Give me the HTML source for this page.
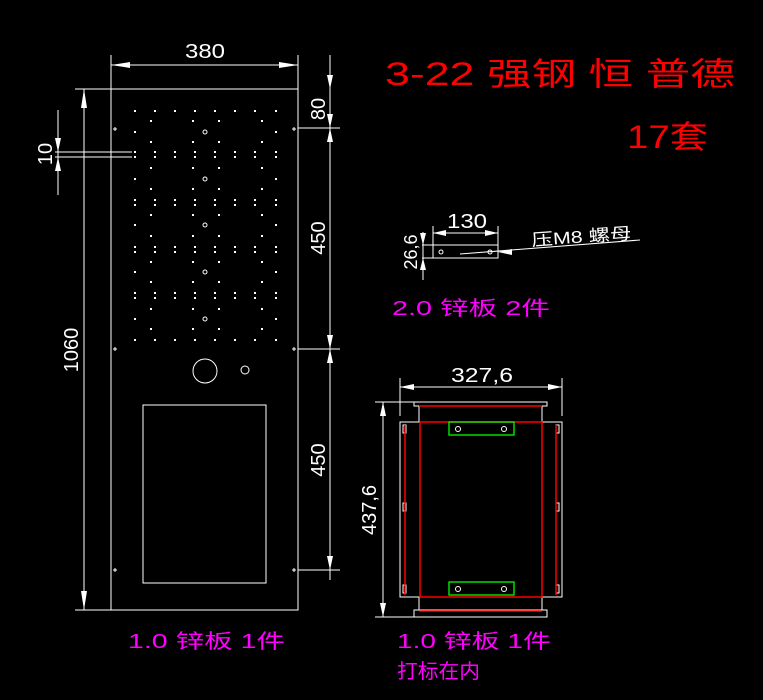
<!DOCTYPE html><html><head><meta charset="utf-8"><style>body{margin:0;background:#000;}svg{display:block}text{font-family:"Liberation Sans","Noto Sans CJK SC",sans-serif}</style></head><body>
<svg width="763" height="700" viewBox="0 0 763 700" xmlns="http://www.w3.org/2000/svg">
<rect width="763" height="700" fill="#000"/>
<g stroke="#fff" stroke-width="1" fill="none">
<rect x="111" y="89" width="187" height="521"/>
<line x1="111" y1="55" x2="111" y2="89"/><line x1="298" y1="55" x2="298" y2="89"/>
<line x1="111" y1="65" x2="298" y2="65"/>
<line x1="75" y1="89" x2="111" y2="89"/><line x1="75" y1="610" x2="111" y2="610"/>
<line x1="84" y1="89" x2="84" y2="610"/>
<line x1="330" y1="55" x2="330" y2="580"/>
<line x1="298" y1="128" x2="340" y2="128"/><line x1="298" y1="349" x2="340" y2="349"/><line x1="298" y1="570" x2="340" y2="570"/>
<line x1="55" y1="152" x2="132" y2="152"/><line x1="55" y1="157" x2="132" y2="157"/>
<line x1="58" y1="110" x2="58" y2="195"/>
<circle cx="205" cy="371" r="12"/><circle cx="245" cy="370" r="4"/>
<rect x="143" y="405" width="123" height="178"/>
<rect x="433" y="245" width="65" height="13"/>
<line x1="433" y1="226" x2="433" y2="245"/><line x1="498" y1="226" x2="498" y2="245"/>
<line x1="433" y1="233" x2="498" y2="233"/>
<line x1="422" y1="245" x2="433" y2="245"/><line x1="422" y1="258" x2="433" y2="258"/>
<line x1="423" y1="232" x2="423" y2="280"/>
<line x1="460" y1="254" x2="640" y2="240"/>
<circle cx="441" cy="252" r="2"/><circle cx="490" cy="252" r="2"/>
<line x1="400" y1="378" x2="400" y2="416"/><line x1="562" y1="378" x2="562" y2="416"/>
<line x1="400" y1="387" x2="562" y2="387"/>
<line x1="375" y1="402" x2="414" y2="402"/><line x1="375" y1="617" x2="414" y2="617"/>
<line x1="383" y1="402" x2="383" y2="617"/>
<rect x="414" y="402" width="133" height="4"/>
<line x1="419" y1="406" x2="419" y2="422"/><line x1="542" y1="406" x2="542" y2="422"/>
<rect x="400" y="422" width="162" height="175"/>
<line x1="419" y1="597" x2="419" y2="610"/><line x1="542" y1="597" x2="542" y2="610"/>
<rect x="414" y="610" width="133" height="7"/>
<rect x="403" y="425" width="3" height="8"/><rect x="403" y="503" width="3" height="8"/><rect x="403" y="585" width="3" height="8"/>
<rect x="556" y="425" width="3" height="8"/><rect x="556" y="503" width="3" height="8"/><rect x="556" y="585" width="3" height="8"/>
<circle cx="458" cy="429" r="2.5"/><circle cx="504" cy="429" r="2.5"/><circle cx="458" cy="589" r="2.5"/><circle cx="504" cy="589" r="2.5"/>
</g>
<g fill="#fff">
<polygon points="111,65 130,62 130,68"/><polygon points="298,65 279,62 279,68"/>
<polygon points="84,89 81,108 87,108"/><polygon points="84,610 81,591 87,591"/>
<polygon points="330,89 327,75 333,75"/><polygon points="330,128 327,142 333,142"/><polygon points="330,128 327,114 333,114"/><polygon points="330,349 327,335 333,335"/><polygon points="330,349 327,363 333,363"/><polygon points="330,570 327,556 333,556"/>
<polygon points="58,152 55,138 61,138"/><polygon points="58,157 55,171 61,171"/>
<polygon points="433,233 446,230 446,236"/><polygon points="498,233 485,230 485,236"/>
<polygon points="423,245 420,233 426,233"/><polygon points="423,258 420,270 426,270"/>
<polygon points="498,252 512,249 512,255"/>
<polygon points="400,387 414,384 414,390"/><polygon points="562,387 548,384 548,390"/>
<polygon points="383,402 380,416 386,416"/><polygon points="383,617 380,603 386,603"/>
</g>
<g fill="none" stroke="#f00" stroke-width="1.5">
<rect x="420" y="422" width="122" height="175"/>
<line x1="405" y1="425" x2="405" y2="595"/><line x1="556" y1="425" x2="556" y2="595"/>
<line x1="419" y1="406" x2="542" y2="406"/><line x1="419" y1="611" x2="542" y2="611"/>
</g>
<g fill="none" stroke="#0f0" stroke-width="1.3">
<rect x="449" y="422" width="65" height="13"/><rect x="449" y="582" width="65" height="13"/>
</g>
<g fill="#fff" font-size="20">
<text x="185" y="58" textLength="40" lengthAdjust="spacingAndGlyphs">380</text>
<text transform="translate(78,350) rotate(-90)" text-anchor="middle">1060</text>
<text transform="translate(325,109) rotate(-90)" text-anchor="middle">80</text>
<text transform="translate(325,238) rotate(-90)" text-anchor="middle">450</text>
<text transform="translate(325,460) rotate(-90)" text-anchor="middle">450</text>
<text transform="translate(52,154) rotate(-90)" text-anchor="middle">10</text>
<text x="447" y="228" textLength="40" lengthAdjust="spacingAndGlyphs">130</text>
<text transform="translate(417,252) rotate(-90)" text-anchor="middle" font-size="18">26,6</text>
<text x="451" y="382" textLength="62" lengthAdjust="spacingAndGlyphs">327,6</text>
<text transform="translate(376,510) rotate(-90)" text-anchor="middle">437,6</text>
<text transform="translate(532,246) rotate(-4)" font-size="17" textLength="100" lengthAdjust="spacingAndGlyphs">压M8 螺母</text>
</g>
<g fill="#f0f" font-size="20">
<text x="392" y="315" textLength="158" lengthAdjust="spacingAndGlyphs">2.0  锌板  2件</text>
<text x="128" y="648" textLength="157" lengthAdjust="spacingAndGlyphs">1.0  锌板  1件</text>
<text x="397" y="648" textLength="154" lengthAdjust="spacingAndGlyphs">1.0  锌板  1件</text>
<text x="397" y="678" textLength="83" lengthAdjust="spacingAndGlyphs">打标在内</text>
</g>
<g fill="#f00" font-size="32">
<text x="385" y="85" textLength="350" lengthAdjust="spacingAndGlyphs">3-22  强钢  恒  普德</text>
<text x="627" y="148" textLength="81" lengthAdjust="spacingAndGlyphs">17套</text>
</g>
<g fill="#fff">
<rect x="134" y="110" width="2" height="2"/><rect x="154" y="110" width="2" height="2"/><rect x="174" y="110" width="2" height="2"/><rect x="194" y="110" width="2" height="2"/><rect x="214" y="110" width="2" height="2"/><rect x="234" y="110" width="2" height="2"/><rect x="254" y="110" width="2" height="2"/><rect x="275" y="110" width="2" height="2"/>
<rect x="150" y="141" width="2" height="2"/><rect x="192" y="141" width="2" height="2"/><rect x="218" y="141" width="2" height="2"/><rect x="261" y="141" width="2" height="2"/>
<rect x="134" y="151" width="2" height="2"/><rect x="154" y="151" width="2" height="2"/><rect x="174" y="151" width="2" height="2"/><rect x="194" y="151" width="2" height="2"/><rect x="214" y="151" width="2" height="2"/><rect x="234" y="151" width="2" height="2"/><rect x="254" y="151" width="2" height="2"/><rect x="275" y="151" width="2" height="2"/>
<rect x="134" y="156" width="2" height="2"/><rect x="154" y="156" width="2" height="2"/><rect x="174" y="156" width="2" height="2"/><rect x="194" y="156" width="2" height="2"/><rect x="214" y="156" width="2" height="2"/><rect x="234" y="156" width="2" height="2"/><rect x="254" y="156" width="2" height="2"/><rect x="275" y="156" width="2" height="2"/>
<rect x="150" y="167" width="2" height="2"/><rect x="192" y="167" width="2" height="2"/><rect x="218" y="167" width="2" height="2"/><rect x="261" y="167" width="2" height="2"/>
<rect x="150" y="120" width="2" height="2"/><rect x="192" y="120" width="2" height="2"/><rect x="218" y="120" width="2" height="2"/><rect x="261" y="120" width="2" height="2"/>
<rect x="134" y="131" width="2" height="2"/><rect x="275" y="131" width="2" height="2"/><rect x="134" y="178" width="2" height="2"/><rect x="275" y="178" width="2" height="2"/>
<rect x="150" y="188" width="2" height="2"/><rect x="192" y="188" width="2" height="2"/><rect x="218" y="188" width="2" height="2"/><rect x="261" y="188" width="2" height="2"/>
<rect x="134" y="199" width="2" height="2"/><rect x="154" y="199" width="2" height="2"/><rect x="174" y="199" width="2" height="2"/><rect x="194" y="199" width="2" height="2"/><rect x="214" y="199" width="2" height="2"/><rect x="234" y="199" width="2" height="2"/><rect x="254" y="199" width="2" height="2"/><rect x="275" y="199" width="2" height="2"/>
<rect x="134" y="204" width="2" height="2"/><rect x="154" y="204" width="2" height="2"/><rect x="174" y="204" width="2" height="2"/><rect x="194" y="204" width="2" height="2"/><rect x="214" y="204" width="2" height="2"/><rect x="234" y="204" width="2" height="2"/><rect x="254" y="204" width="2" height="2"/><rect x="275" y="204" width="2" height="2"/>
<rect x="150" y="214" width="2" height="2"/><rect x="192" y="214" width="2" height="2"/><rect x="218" y="214" width="2" height="2"/><rect x="261" y="214" width="2" height="2"/>
<rect x="134" y="224" width="2" height="2"/><rect x="275" y="224" width="2" height="2"/>
<rect x="150" y="235" width="2" height="2"/><rect x="192" y="235" width="2" height="2"/><rect x="218" y="235" width="2" height="2"/><rect x="261" y="235" width="2" height="2"/>
<rect x="134" y="246" width="2" height="2"/><rect x="154" y="246" width="2" height="2"/><rect x="174" y="246" width="2" height="2"/><rect x="194" y="246" width="2" height="2"/><rect x="214" y="246" width="2" height="2"/><rect x="234" y="246" width="2" height="2"/><rect x="254" y="246" width="2" height="2"/><rect x="275" y="246" width="2" height="2"/>
<rect x="134" y="251" width="2" height="2"/><rect x="154" y="251" width="2" height="2"/><rect x="174" y="251" width="2" height="2"/><rect x="194" y="251" width="2" height="2"/><rect x="214" y="251" width="2" height="2"/><rect x="234" y="251" width="2" height="2"/><rect x="254" y="251" width="2" height="2"/><rect x="275" y="251" width="2" height="2"/>
<rect x="150" y="261" width="2" height="2"/><rect x="192" y="261" width="2" height="2"/><rect x="218" y="261" width="2" height="2"/><rect x="261" y="261" width="2" height="2"/>
<rect x="134" y="271" width="2" height="2"/><rect x="275" y="271" width="2" height="2"/>
<rect x="150" y="281" width="2" height="2"/><rect x="192" y="281" width="2" height="2"/><rect x="218" y="281" width="2" height="2"/><rect x="261" y="281" width="2" height="2"/>
<rect x="134" y="292" width="2" height="2"/><rect x="154" y="292" width="2" height="2"/><rect x="174" y="292" width="2" height="2"/><rect x="194" y="292" width="2" height="2"/><rect x="214" y="292" width="2" height="2"/><rect x="234" y="292" width="2" height="2"/><rect x="254" y="292" width="2" height="2"/><rect x="275" y="292" width="2" height="2"/>
<rect x="134" y="297" width="2" height="2"/><rect x="154" y="297" width="2" height="2"/><rect x="174" y="297" width="2" height="2"/><rect x="194" y="297" width="2" height="2"/><rect x="214" y="297" width="2" height="2"/><rect x="234" y="297" width="2" height="2"/><rect x="254" y="297" width="2" height="2"/><rect x="275" y="297" width="2" height="2"/>
<rect x="150" y="308" width="2" height="2"/><rect x="192" y="308" width="2" height="2"/><rect x="218" y="308" width="2" height="2"/><rect x="261" y="308" width="2" height="2"/>
<rect x="134" y="318" width="2" height="2"/><rect x="275" y="318" width="2" height="2"/>
<rect x="150" y="328" width="2" height="2"/><rect x="192" y="328" width="2" height="2"/><rect x="218" y="328" width="2" height="2"/><rect x="261" y="328" width="2" height="2"/>
<rect x="134" y="339" width="2" height="2"/><rect x="154" y="339" width="2" height="2"/><rect x="174" y="339" width="2" height="2"/><rect x="194" y="339" width="2" height="2"/><rect x="214" y="339" width="2" height="2"/><rect x="234" y="339" width="2" height="2"/><rect x="254" y="339" width="2" height="2"/><rect x="275" y="339" width="2" height="2"/>
</g>
<g fill="none" stroke="#fff">
<circle cx="205" cy="132" r="2"/><circle cx="205" cy="179" r="2"/><circle cx="205" cy="225" r="2"/><circle cx="205" cy="272" r="2"/><circle cx="205" cy="319" r="2"/>
<path d="M113 129h4M115 127v4M113 349h4M115 347v4M113 570h4M115 568v4M292 129h4M294 127v4M292 349h4M294 347v4M292 570h4M294 568v4"/>
</g>
</svg>
</body></html>
